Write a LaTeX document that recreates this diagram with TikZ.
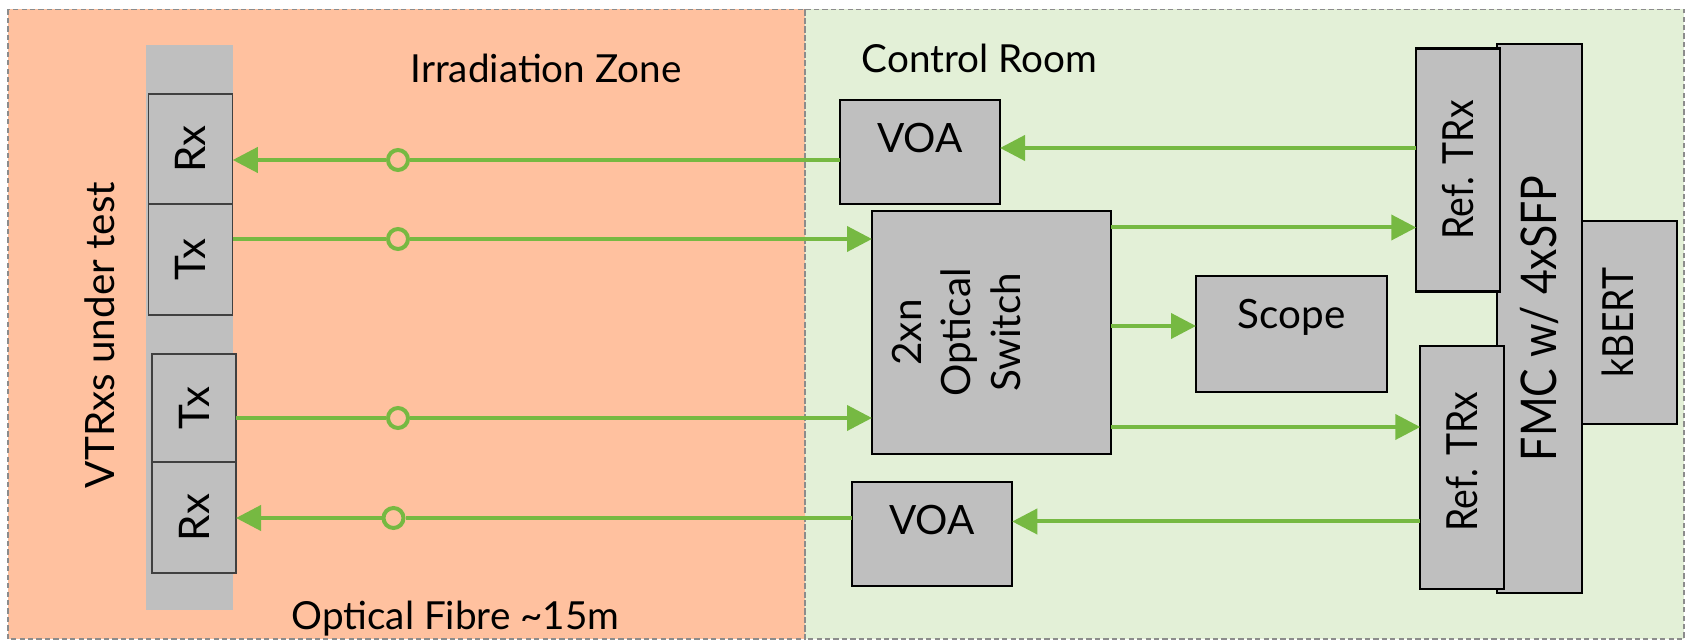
\documentclass[tikz,border=0pt]{standalone}
\usepackage{fontspec}
\setmainfont{Lato}
\newfontfamily\narrowfont[FakeStretch=0.87]{Lato}
\usepackage{graphicx}
\usepackage{xcolor}
\definecolor{cHot}{HTML}{FFC19F}
\definecolor{cCold}{HTML}{E3F0D7}
\definecolor{cBox}{HTML}{BFBFBF}
\definecolor{cFibre}{HTML}{76B942}
\definecolor{cEdge}{HTML}{8C8C8C}
\usetikzlibrary{arrows.meta}
\newcommand{\vtxt}[1]{\rotatebox{90}{#1}}
\tikzset{
  zone/.style={draw=cEdge,line width=0.3pt,dash pattern=on 1.5pt off 0.9pt},
  zone-label/.style={font=\fontsize{11}{13}\selectfont,inner sep=0pt},
  unit-box/.style={draw=black,line width=0.6pt,fill=cBox,inner sep=0pt,
    outer sep=0pt,font=\fontsize{11.5}{13}\selectfont},
  unit-narrow/.style={unit-box,font=\narrowfont\fontsize{12.2}{14}\selectfont},
  dut-box/.style={draw=black!75,line width=0.35pt,fill=cBox,inner sep=0pt,
    outer sep=0pt,font=\fontsize{12}{14}\selectfont},
  splice/.style={circle,draw=cFibre,line width=0.4mm,minimum size=2mm,inner sep=0pt},
  fibre/.style={draw=cFibre,line width=0.4mm},
  fibre-arrow/.style={fibre,-{Triangle[length=2.5mm,width=2.5mm]}},
}

\begin{document}
\begin{tikzpicture}[x=0.1mm,y=-0.1mm]
  \useasboundingbox (0,0) rectangle (1687,641);
  % two areas
  \fill[cHot] (8,9.5) rectangle (805,639);
  \fill[cCold] (805,9.5) rectangle (1684,639);
  \draw[zone] (8,9.5) rectangle (805,639);
  \draw[zone] (805,9.5) rectangle (1684,639);
  \node[zone-label,anchor=base] (irr) at (546,82.7) {Irradiation Zone};
  \node[zone-label,anchor=base] (ctrl) at (979.5,73) {Control Room};
  \node[zone-label,anchor=base] (len) at (455.5,630) {Optical Fibre \textasciitilde15m};

  % devices under test
  \node[fill=cBox,minimum width=8.7mm,minimum height=56.5mm] (carrier) at (189.5,327.5) {};
  \node[zone-label,rotate=90,anchor=base,font=\fontsize{11.5}{13}\selectfont] (dut) at (114,335) {VTRxs under test};
  \node[dut-box,minimum width=8.45mm,minimum height=11mm] (rxA) at (190.5,149) {\vtxt{Rx}};
  \node[dut-box,minimum width=8.45mm,minimum height=11.1mm] (txA) at (190.5,259.5) {\vtxt{Tx}};
  \node[dut-box,minimum width=8.4mm,minimum height=10.8mm] (txB) at (194,408) {\vtxt{Tx}};
  \node[dut-box,minimum width=8.4mm,minimum height=11.1mm] (rxB) at (194,517.5) {\vtxt{Rx}};

  % control room
  \node[unit-box,minimum width=16mm,minimum height=10.4mm,text height=2.9mm,text depth=2.7mm] (voaA) at (920,152) {VOA};
  \node[unit-box,minimum width=16.05mm,minimum height=10.4mm,text height=2.9mm,text depth=2.7mm] (voaB) at (932,534) {VOA};
  \node[unit-box,minimum width=23.9mm,minimum height=24.3mm,font=\fontsize{11.5}{14.2}\selectfont] (sw) at (991.5,332.5)
    {\vtxt{\begin{tabular}{@{}c@{}}2xn\\Optical\\Switch\end{tabular}}\hspace*{6.1mm}};
  \node[unit-box,minimum width=19.1mm,minimum height=11.6mm,text height=2.9mm,text depth=3.9mm] (scope) at (1291.5,334) {Scope};
  \node[unit-narrow,minimum width=8.45mm,minimum height=54.9mm,font=\narrowfont\fontsize{14}{16}\selectfont] (fmc) at (1539.5,318.5) {\vtxt{FMC w/ 4xSFP}};
  \node[unit-narrow,minimum width=8.35mm,minimum height=24.3mm] (refA) at (1458,170) {\vtxt{Ref. TRx}};
  \node[unit-narrow,minimum width=8.35mm,minimum height=24.3mm] (refB) at (1462,467.5) {\raisebox{1.2mm}{\vtxt{Ref. TRx}}};
  \node[unit-narrow,minimum width=9.5mm,minimum height=20.3mm] (kbert) at (1629.5,322.5) {\vtxt{kBERT}\hspace*{2.4mm}};

  % fibre rows
  \node[splice] (c1) at (398,160) {};
  \node[splice] (c2) at (398,239) {};
  \node[splice] (c3) at (398,418) {};
  \node[splice] (c4) at (393.5,518) {};
  \coordinate (yRefA) at (0,148);
  \coordinate (ySwA) at (0,227.5);
  \coordinate (yScope) at (0,326);
  \coordinate (ySwB) at (0,427);
  \coordinate (yRefB) at (0,521.5);

  \draw[fibre-arrow] (refA.west |- yRefA) -- (voaA.east |- yRefA);
  \draw[fibre] (voaA.west |- c1) -- (c1);
  \draw[fibre-arrow] (c1) -- (rxA.east |- c1);
  \draw[fibre] (txA.east |- c2) -- (c2);
  \draw[fibre-arrow] (c2) -- (sw.west |- c2);
  \draw[fibre-arrow] (sw.east |- ySwA) -- (refA.west |- ySwA);
  \draw[fibre-arrow] (sw.east |- yScope) -- (scope.west |- yScope);
  \draw[fibre] (txB.east |- c3) -- (c3);
  \draw[fibre-arrow] (c3) -- (sw.west |- c3);
  \draw[fibre-arrow] (sw.east |- ySwB) -- (refB.west |- ySwB);
  \draw[fibre-arrow] (refB.west |- yRefB) -- (voaB.east |- yRefB);
  \draw[fibre] (voaB.west |- c4) -- (c4);
  \draw[fibre-arrow] (c4) -- (rxB.east |- c4);
\end{tikzpicture}
\end{document}
